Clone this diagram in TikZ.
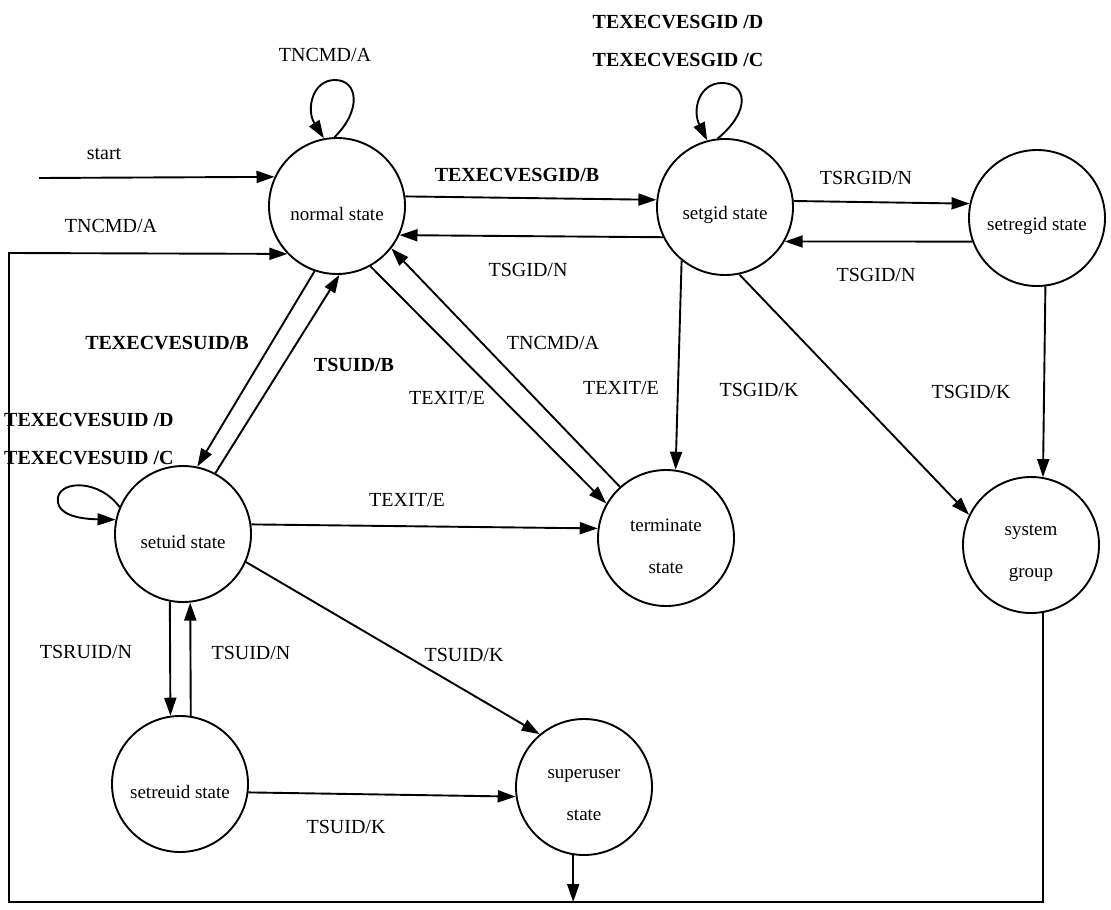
\documentclass[tikz,border=0pt]{standalone}
\usepackage{fontspec}
\setmainfont{Liberation Serif}
\usetikzlibrary{arrows.meta}
\begin{document}
\begin{tikzpicture}[x=1pt,y=-1pt,
  state/.style={draw,circle,minimum size=136pt,inner sep=0pt,line width=1.9pt},
  stt/.style={font=\fontsize{19}{42}\selectfont,align=center,yshift=-8pt,inner sep=0pt},
  arr/.style={line width=1.9pt,-{Triangle[length=18pt,width=12pt]}},
  lbl/.style={font=\fontsize{20}{24}\selectfont,inner sep=0pt},
  blbl/.style={font=\fontsize{20}{24}\selectfont\bfseries,inner sep=0pt}]
\useasboundingbox (0,0) rectangle (1111,910);

% states
\node[state,label={[stt]center:normal state}] (N) at (337,206) {};
\node[state,label={[stt]center:setgid state}] (G) at (725,207) {};
\node[state,label={[stt]center:setregid state}] (RG) at (1037,218) {};
\node[state,label={[stt]center:setuid state}] (U) at (183,534) {};
\node[state,label={[stt]center:terminate\\state}] (T) at (666,538) {};
\node[state,label={[stt]center:system\\group}] (S) at (1031,545) {};
\node[state,label={[stt]center:setreuid state}] (RU) at (180,784) {};
\node[state,label={[stt]center:superuser\\state}] (SU) at (584,787) {};

% start
\coordinate (st) at (39,178);
\draw[arr] (st) -- (N.155);
\node[lbl] (lstart) at (104,154) {start};

% self loop normal
\draw[arr] (N.92) .. controls (362,110) and (358,80) .. (335,80) .. controls (312,80) and (306,110) .. (N.101);
\node[lbl] (lnloop) at (325,55) {TNCMD/A};

% return path
\coordinate (bl) at (9,902);
\coordinate (tl) at (9,253);
\draw[arr] (S.-80) -- (S.-80 |- bl) -- (bl) -- (tl) -- (N.224);
\draw[arr] (SU.-99) -- (SU.-99 |- bl);
\node[lbl] (lret) at (111,226) {TNCMD/A};

% normal <-> setgid
\draw[arr] (N.8) -- (G.174);
\node[blbl] (lng) at (517,175) {TEXECVESGID/B};
\draw[arr] (G.206) -- (N.-25);
\node[lbl] (lgn) at (528,270) {TSGID/N};

% setgid <-> setregid
\draw[arr] (G.5) -- (RG.168);
\node[lbl] (lgrg) at (866,178) {TSRGID/N};
\draw[arr] (RG.200) -- (G.-30);
\node[lbl] (lrgg) at (876,275) {TSGID/N};

% setgid self loop
\draw[arr] (G.96) .. controls (752,110) and (746,83) .. (722,83) .. controls (699,83) and (692,110) .. (G.105);
\node[blbl] (lgd) at (678,22) {TEXECVESGID /D};
\node[blbl] (lgc) at (678,60) {TEXECVESGID /C};

% setgid -> terminate, system group
\draw[arr] (G.231) -- (T.82);
\node[lbl] (lgt) at (621,388) {TEXIT/E};
\draw[arr] (G.-78) -- (S.154);
\node[lbl] (lgs) at (759,390) {TSGID/K};
\draw[arr] (RG.-83) -- (S.80);
\node[lbl] (lrgs) at (971,392) {TSGID/K};

% normal <-> setuid
\draw[arr] (N.251) -- (U.78);
\node[blbl] (lnu) at (167,343) {TEXECVESUID/B};
\draw[arr] (U.62) -- (N.-88);
\node[blbl] (lun) at (354,365) {TSUID/B};

% normal <-> terminate
\draw[arr] (N.-61) -- (T.150);
\node[lbl] (lnt) at (447,398) {TEXIT/E};
\draw[arr] (T.132) -- (N.-38);
\node[lbl] (ltn) at (553,343) {TNCMD/A};

% setuid self loop
\draw[arr] (U.157) .. controls (100,480) and (62,480) .. (58,497) .. controls (55,516) and (82,519) .. (U.168);
\node[blbl,anchor=west] (lud) at (4,420) {TEXECVESUID /D};
\node[blbl,anchor=west] (luc) at (4,458) {TEXECVESUID /C};

% setuid -> terminate, superuser
\draw[arr] (U.8) -- (T.172);
\node[lbl] (lut) at (407,500) {TEXIT/E};
\draw[arr] (U.-24) -- (SU.130);
\node[lbl] (lusu) at (464,655) {TSUID/K};

% setuid <-> setreuid
\draw[arr] (U.-101) -- (RU.98);
\node[lbl] (luru) at (86,652) {TSRUID/N};
\draw[arr] (RU.81) -- (U.-84);
\node[lbl] (lruu) at (251,653) {TSUID/N};

% setreuid -> superuser
\draw[arr] (RU.-7) -- (SU.188);
\node[lbl] (lrusu) at (346,827) {TSUID/K};
\end{tikzpicture}
\end{document}
